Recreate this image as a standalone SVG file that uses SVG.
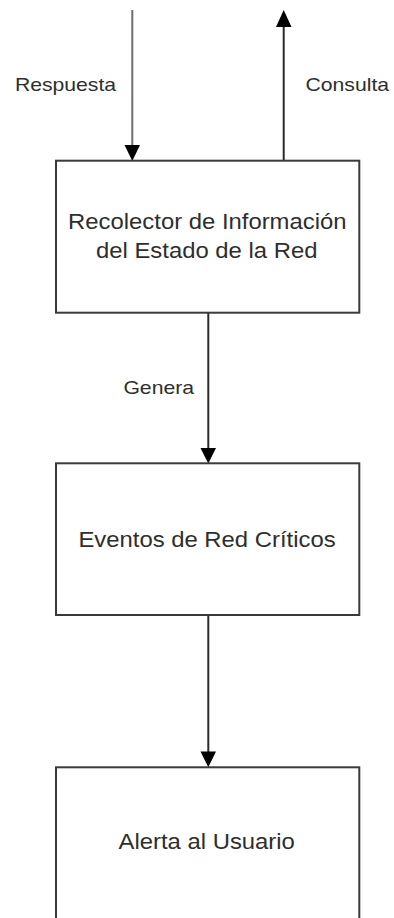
<svg xmlns="http://www.w3.org/2000/svg" width="394" height="918" viewBox="0 0 394 918">
<style>
.box{fill:#ffffff;stroke:#3a3a3a;stroke-width:2}
.t{font-family:"Liberation Sans",Arial,sans-serif;fill:#2e2e2e;text-anchor:middle}
.bt{font-size:21.5px}
.lt{font-size:19px}
.ln{stroke:#2a2a2a;stroke-width:2;fill:none}
.ah{fill:#000000}
</style>
<rect width="394" height="918" fill="#ffffff"/>
<g id="connectors">
<line class="ln" x1="132.3" y1="10" x2="132.3" y2="147" style="stroke:#6e6e6e"/>
<polygon class="ah" points="124.5,145 140,145 132.3,161"/>
<line class="ln" x1="283.7" y1="161" x2="283.7" y2="24"/>
<polygon class="ah" points="276,27 291.5,27 283.7,10"/>
<line class="ln" x1="208.3" y1="313" x2="208.3" y2="450"/>
<polygon class="ah" points="200.5,448 216,448 208.3,463.5"/>
<line class="ln" x1="208.3" y1="615" x2="208.3" y2="753"/>
<polygon class="ah" points="200.5,751.5 216,751.5 208.3,767.3"/>
<text class="t lt" transform="translate(65.5,90.7) scale(1.115,1)">Respuesta</text>
<text class="t lt" transform="translate(347.3,90.7) scale(1.115,1)">Consulta</text>
<text class="t lt" transform="translate(158.7,394) scale(1.115,1)">Genera</text>
</g>
<g id="node-recolector">
<rect class="box" x="56" y="160.7" width="303.3" height="152"/>
<text class="t bt" transform="translate(207.3,229.3) scale(1.11,1)">Recolector de Información</text>
<text class="t bt" transform="translate(206.7,258.3) scale(1.11,1)">del Estado de la Red</text>
</g>
<g id="node-eventos">
<rect class="box" x="56" y="463.3" width="303.3" height="151.7"/>
<text class="t bt" transform="translate(207,546.7) scale(1.11,1)">Eventos de Red Críticos</text>
</g>
<g id="node-alerta">
<rect class="box" x="56" y="767.3" width="303.3" height="152"/>
<text class="t bt" transform="translate(206.7,849.3) scale(1.11,1)">Alerta al Usuario</text>
</g>
</svg>
